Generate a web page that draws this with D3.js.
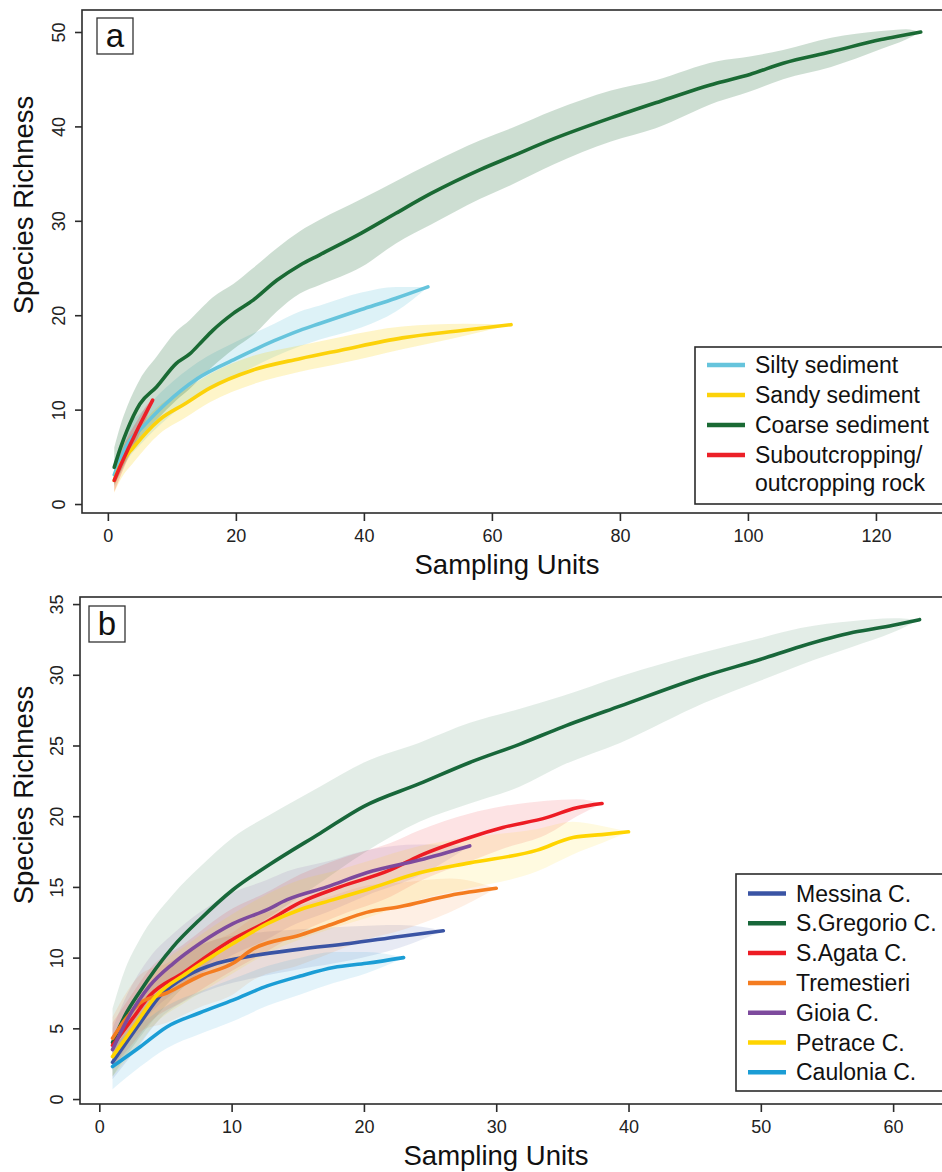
<!DOCTYPE html>
<html>
<head>
<meta charset="utf-8">
<script src="https://d3js.org/d3.v7.min.js"></script>
<style>
    body { margin: 0; background: #fff; }
    svg { display: block; font-family: "Liberation Sans", Arial, sans-serif; }
</style>
</head>
<body>
<svg id="chart" width="942" height="1172"></svg>
<script>

// rows are [sampling units, mean richness, lower band, upper band]
var silty = [[1, 3.1, 1.8, 4.6], [3, 6.3, 4.6, 8.0], [5.5, 8.2, 6.6, 9.9], [9, 10.6, 8.9, 12.3],
    [14, 13.3, 11.6, 15.0], [20, 15.4, 13.6, 17.2], [26, 17.3, 15.6, 19.1], [30, 18.4, 16.7, 20.4],
    [33, 19.1, 17.4, 21.0], [39.6, 20.6, 18.7, 22.4], [45, 21.8, 20.4, 23.0], [50, 23.0, 23.0, 23.0]];

var sandy = [[1, 2.5, 1.2, 4.0], [2, 4.2, 2.6, 5.8], [4, 6.0, 4.4, 7.6], [8, 8.9, 7.4, 10.4],
    [12, 10.6, 9.1, 12.1], [16, 12.3, 10.8, 13.8], [22.7, 14.2, 12.7, 15.7], [30, 15.4, 14.0, 16.8],
    [36.4, 16.3, 14.9, 17.7], [46, 17.6, 16.4, 18.8], [55.6, 18.4, 17.8, 19.1], [63, 19.0, 19.0, 19.0]];

var coarse = [[1, 3.9, 2.0, 6.0], [2, 6.0, 3.4, 8.4], [3, 7.8, 4.8, 10.3], [5, 10.6, 7.0, 13.2],
    [7.6, 12.4, 8.9, 15.6], [10.7, 14.9, 11.0, 18.3], [12.8, 15.9, 12.2, 19.5], [14.4, 17.0, 13.3, 20.6],
    [16.4, 18.4, 14.6, 21.9], [19.6, 20.2, 16.4, 23.3], [22.7, 21.6, 17.9, 25.0], [26.4, 23.7, 20.4, 27.1],
    [30, 25.3, 22.3, 28.9], [33.1, 26.4, 23.2, 30.1], [39.6, 28.7, 25.1, 32.3], [45, 30.8, 27.6, 34.2],
    [50.5, 32.9, 29.6, 36.1], [58.1, 35.4, 32.3, 38.5], [63, 36.8, 33.8, 39.8], [69.7, 38.7, 36.0, 41.7],
    [78.6, 40.9, 38.4, 43.8], [85.6, 42.5, 39.8, 44.9], [95.2, 44.6, 42.6, 46.9], [100.3, 45.5, 43.7, 47.4],
    [105.5, 46.7, 45.0, 48.1], [113, 47.9, 46.3, 49.4], [120.8, 49.2, 48.2, 50.1], [124.7, 49.7, 49.2, 50.3],
    [127, 50.0, 50.0, 50.0]];

var rock = [[1, 2.5, 1.3, 3.7], [2, 4.1, 3.0, 5.4], [3, 5.6, 4.6, 7.0], [4, 7.0, 6.0, 8.2],
    [5, 8.4, 7.5, 9.3], [6, 9.7, 9.0, 10.4], [7, 11.0, 11.0, 11.0]];

var messina = [[1, 2.6, 1.4, 3.8], [3.1, 5.4, 3.9, 6.9], [4.6, 7.3, 5.7, 8.9], [6.6, 8.7, 7.0, 10.4],
    [8.9, 9.6, 7.9, 11.3], [11.4, 10.1, 8.5, 11.7], [15.2, 10.6, 9.2, 12.0], [18.9, 11.0, 9.8, 12.2],
    [22.7, 11.5, 10.7, 12.3], [26, 11.9, 11.9, 11.9]];

var gregorio = [[1, 4.0, 1.6, 6.4], [2, 6.0, 3.0, 9.3], [3, 7.5, 4.3, 11.2], [5.6, 10.8, 7.2, 14.5],
    [7.6, 12.7, 9.0, 16.4], [10.1, 14.8, 11.1, 18.5], [12.9, 16.6, 12.9, 20.1], [16.7, 18.8, 15.3, 22.1],
    [20, 20.7, 17.4, 23.8], [24.2, 22.3, 19.6, 25.2], [28, 23.8, 20.9, 26.6], [31.8, 25.1, 22.1, 27.6],
    [35, 26.3, 23.6, 28.5], [39.4, 27.8, 25.2, 29.9], [45.7, 29.9, 28.0, 31.6], [50, 31.1, 29.6, 32.6],
    [53, 32.0, 30.7, 33.3], [57, 33.0, 32.0, 33.8], [60, 33.5, 33.0, 34.0], [62, 33.9, 33.9, 33.9]];

var agata = [[1, 3.8, 2.2, 5.4], [2.6, 5.8, 4.0, 7.6], [3.8, 7.3, 5.4, 9.2], [6.3, 8.9, 6.9, 10.9],
    [10.1, 11.3, 9.1, 13.5], [12.4, 12.4, 10.3, 14.5], [15.2, 13.9, 11.8, 15.9], [18.2, 15.0, 13.0, 17.0],
    [22, 16.2, 14.3, 18.1], [24.2, 17.2, 15.4, 19.0], [28, 18.5, 16.8, 20.2], [30.5, 19.2, 17.7, 20.7],
    [33.8, 19.9, 18.7, 21.1], [36.1, 20.6, 20.0, 21.2], [38, 20.9, 20.9, 20.9]];

var tremestieri = [[1, 4.3, 2.8, 5.8], [2.1, 5.8, 4.0, 7.6], [3.1, 6.8, 4.8, 8.8], [5.1, 7.5, 5.4, 9.6],
    [7.6, 8.7, 6.5, 10.9], [10.1, 9.6, 7.4, 11.8], [11.6, 10.6, 8.4, 12.8], [15.2, 11.6, 9.5, 13.7],
    [17.7, 12.4, 10.4, 14.4], [20.2, 13.2, 11.3, 15.1], [22.7, 13.6, 11.9, 15.3], [26.5, 14.4, 13.2, 15.6],
    [30, 14.9, 14.9, 14.9]];

var gioia = [[1, 3.5, 2.0, 5.0], [2.1, 5.6, 3.8, 7.4], [3.8, 8.0, 6.0, 10.0], [5.6, 9.6, 7.5, 11.7],
    [7.6, 11.0, 8.8, 13.2], [10.1, 12.4, 10.2, 14.6], [12.7, 13.4, 11.3, 15.5], [14.2, 14.1, 12.1, 16.1],
    [17.2, 15.0, 13.2, 16.8], [20.2, 16.0, 14.4, 17.6], [24.2, 16.9, 15.8, 18.0], [28, 17.9, 17.9, 17.9]];

var petrace = [[1, 3.0, 1.6, 4.4], [2.6, 5.1, 3.4, 6.8], [4.3, 7.3, 5.4, 9.2], [6.6, 8.9, 6.9, 10.9],
    [10.1, 11.0, 8.9, 13.1], [12.7, 12.4, 10.3, 14.5], [15.2, 13.4, 11.3, 15.5], [17.7, 14.1, 12.1, 16.1],
    [20.2, 14.8, 12.8, 16.8], [24.2, 16.0, 14.1, 17.9], [28, 16.7, 14.9, 18.5], [33.1, 17.6, 16.1, 19.1],
    [35.8, 18.5, 17.3, 19.6], [38, 18.7, 18.1, 19.3], [40, 18.9, 18.9, 18.9]];

var caulonia = [[1, 2.3, 0.7, 3.8], [3.1, 3.7, 2.3, 5.3], [5.1, 5.1, 3.6, 6.6], [7.6, 6.1, 4.6, 7.6],
    [10.1, 7.0, 5.5, 8.5], [12.7, 8.0, 6.6, 9.4], [15.2, 8.7, 7.4, 10.0], [17.7, 9.3, 8.2, 10.4],
    [20.2, 9.6, 8.9, 10.4], [23, 10.0, 10.0, 10.0]];

var seriesA = [silty, sandy, coarse, rock];
var namesA = ["Silty sediment", "Sandy sediment", "Coarse sediment", "Suboutcropping/"];
var colorsA = ["#66c4dc", "#fcd20a", "#1a6a34", "#ec2028"];

var seriesB = [messina, gregorio, agata, tremestieri, gioia, petrace, caulonia];
var namesB = ["Messina C.", "S.Gregorio C.", "S.Agata C.", "Tremestieri", "Gioia C.", "Petrace C.", "Caulonia C."];
var colorsB = ["#3a54a4", "#18673a", "#ed1c24", "#f47c20", "#7d4a9d", "#ffd400", "#1b9dd5"];

var ticksA_x = [0, 20, 40, 60, 80, 100, 120];
var ticksA_y = [0, 10, 20, 30, 40, 50];
var ticksB_x = [0, 10, 20, 30, 40, 50, 60];
var ticksB_y = [0, 5, 10, 15, 20, 25, 30, 35];

var svg = d3.select("#chart");

function drawPanel(p) {

    var x = d3.scaleLinear().domain(p.xdom).range([p.left, p.right]);
    var y = d3.scaleLinear().domain(p.ydom).range([p.bottom, p.top]);

    var g = svg.append("g");

    var area = d3.area()
        .curve(d3.curveMonotoneX)
        .x(function (d) { return x(d[0]); })
        .y0(function (d) { return y(d[2]); })
        .y1(function (d) { return y(d[3]); });

    var line = d3.line()
        .curve(d3.curveMonotoneX)
        .x(function (d) { return x(d[0]); })
        .y(function (d) { return y(d[1]); });

    g.selectAll(".band")
        .data(p.series)
        .enter()
        .append("path")
        .attr("d", area)
        .attr("fill", function (d, i) { return p.colors[i]; })
        .attr("fill-opacity", p.bandOpacity);

    g.selectAll(".curve")
        .data(p.series)
        .enter()
        .append("path")
        .attr("d", line)
        .attr("fill", "none")
        .attr("stroke", function (d, i) { return p.colors[i]; })
        .attr("stroke-width", 3.6)
        .attr("stroke-linecap", "round")
        .attr("stroke-linejoin", "round");

    // box
    g.append("rect")
        .attr("x", p.left).attr("y", p.top)
        .attr("width", p.right - p.left).attr("height", p.bottom - p.top)
        .attr("fill", "none").attr("stroke", "#2b2b2b").attr("stroke-width", 1.6);

    var xAxis = g.append("g")
        .attr("transform", "translate(0," + p.bottom + ")")
        .call(d3.axisBottom(x).tickValues(p.xticks).tickSize(8).tickPadding(8));

    var yAxis = g.append("g")
        .attr("transform", "translate(" + p.left + ",0)")
        .call(d3.axisLeft(y).tickValues(p.yticks).tickSize(7));

    [xAxis, yAxis].forEach(function (a) {
        a.select(".domain").remove();
        a.selectAll("line").attr("stroke", "#2b2b2b").attr("stroke-width", 1.6);
        a.selectAll("text").attr("font-size", 18).attr("fill", "#222")
            .attr("font-family", "Liberation Sans, Arial, sans-serif");
    });

    yAxis.selectAll("text")
        .attr("text-anchor", "middle")
        .attr("transform", "rotate(-90)")
        .attr("x", 0)
        .attr("y", -17)
        .attr("dy", 0);

    // axis titles
    g.append("text")
        .attr("x", p.xtitle[0]).attr("y", p.xtitle[1])
        .attr("text-anchor", "middle")
        .attr("font-size", 27.5).attr("fill", "#111")
        .text("Sampling Units");

    g.append("text")
        .attr("transform", "translate(" + p.ytitle[0] + "," + p.ytitle[1] + ") rotate(-90)")
        .attr("text-anchor", "middle")
        .attr("font-size", 27.5).attr("fill", "#111")
        .text("Species Richness");

    // panel letter
    g.append("rect")
        .attr("x", p.tag[0]).attr("y", p.tag[1]).attr("width", 36).attr("height", 36)
        .attr("fill", "#fff").attr("stroke", "#333").attr("stroke-width", 1.3);
    g.append("text")
        .attr("x", p.tag[0] + 18).attr("y", p.tag[1] + 29)
        .attr("text-anchor", "middle")
        .attr("font-size", 33).attr("fill", "#111")
        .text(p.letter);

    // legend
    var lg = g.append("g");
    lg.append("rect")
        .attr("x", p.legend[0]).attr("y", p.legend[1])
        .attr("width", 300).attr("height", p.legend[2])
        .attr("fill", "#fff").attr("stroke", "#2b2b2b").attr("stroke-width", 1.6);

    var rows = lg.selectAll(".row")
        .data(p.names)
        .enter()
        .append("g")
        .attr("transform", function (d, i) {
            return "translate(" + p.legend[0] + "," + (p.legend[1] + p.legend[3] + i * p.legend[4]) + ")";
        });

    rows.append("line")
        .attr("x1", 12).attr("x2", 50)
        .attr("stroke", function (d, i) { return p.colors[i]; })
        .attr("stroke-width", 4.5);

    rows.append("text")
        .attr("x", 60).attr("dy", 8)
        .attr("font-size", 23).attr("fill", "#111")
        .text(function (d) { return d; });

    if (p.extra) {
        lg.append("text")
            .attr("x", p.legend[0] + 60)
            .attr("y", p.legend[1] + p.legend[3] + p.names.length * p.legend[4] - 2 + 8)
            .attr("font-size", 23).attr("fill", "#111")
            .text(p.extra);
    }
}

drawPanel({
    series: seriesA, colors: colorsA, names: namesA, extra: "outcropping rock",
    xdom: [-4.04, 132.04], ydom: [-0.95, 52.33],
    left: 82, right: 953, top: 10, bottom: 513,
    xticks: ticksA_x, yticks: ticksA_y,
    bandOpacity: 0.22,
    xtitle: [507, 574], ytitle: [33, 205],
    tag: [97, 18], letter: "a",
    legend: [695, 347, 157, 18, 30]
});

drawPanel({
    series: seriesB, colors: colorsB, names: namesB,
    xdom: [-1.46, 64.45], ydom: [-0.35, 35.5],
    left: 80, right: 952, top: 597, bottom: 1104,
    xticks: ticksB_x, yticks: ticksB_y,
    bandOpacity: 0.12,
    xtitle: [496, 1165], ytitle: [33, 795],
    tag: [89, 606], letter: "b",
    legend: [736, 874, 217, 19.5, 29.8]
});

</script>
</body>
</html>
